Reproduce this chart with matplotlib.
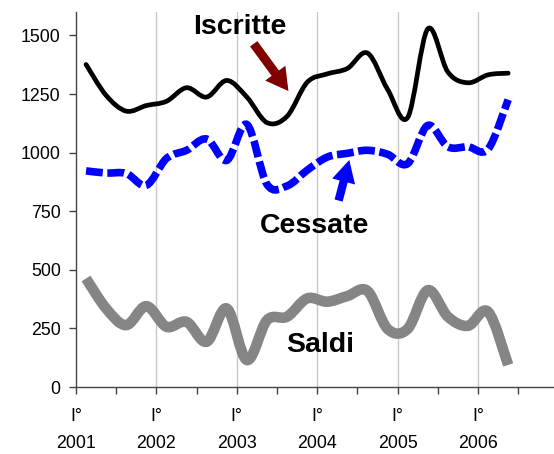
import numpy as np
import matplotlib
matplotlib.use("Agg")
import matplotlib.pyplot as plt
from matplotlib.path import Path
from matplotlib.patches import PathPatch, FancyArrowPatch

plt.rcParams['font.family'] = ['Liberation Sans', 'DejaVu Sans']

# quarterly data, I 2001 .. II 2006
years = [2001, 2002, 2003, 2004, 2005, 2006]
iscritte = [1376, 1244, 1177, 1201, 1219, 1277, 1237, 1308, 1237, 1128, 1155, 1300,
            1336, 1359, 1425, 1270, 1150, 1528, 1344, 1298, 1332, 1339]
cessate = [922, 913, 911, 861, 975, 1010, 1058, 967, 1120, 865, 858, 925,
           981, 997, 1010, 993, 953, 1116, 1025, 1025, 1015, 1226]
saldi = [463, 335, 264, 345, 257, 278, 193, 335, 115, 285, 300, 378,
         364, 388, 410, 248, 248, 413, 300, 261, 321, 94]


def smooth_path(xs, ys):
    # excel-like smoothed line (catmull-rom as bezier)
    p = np.column_stack([xs, ys]).astype(float)
    n = len(p)
    verts = [p[0]]
    codes = [Path.MOVETO]
    for i in range(n - 1):
        p0 = p[i - 1] if i > 0 else p[i]
        p3 = p[i + 2] if i + 2 < n else p[i + 1]
        c1 = p[i] + (p[i + 1] - p0) / 6
        c2 = p[i + 1] - (p3 - p[i]) / 6
        verts += [c1, c2, p[i + 1]]
        codes += [Path.CURVE4] * 3
    return Path(verts, codes)


fig = plt.figure(figsize=(5.54, 4.54), dpi=100)
ax = fig.add_axes([76 / 554, 67 / 454, 478 / 554, 375 / 454])

x = np.arange(len(iscritte)) + 0.5

ax.add_patch(PathPatch(smooth_path(x, saldi), fill=False, edgecolor='#858585',
                       lw=7.6, capstyle='butt', joinstyle='round'))
ax.add_patch(PathPatch(smooth_path(x, cessate), fill=False, edgecolor='#0000ff',
                       lw=5.5, linestyle=(0, (2.2, 0.6)), capstyle='butt'))
ax.add_patch(PathPatch(smooth_path(x, iscritte), fill=False, edgecolor='black',
                       lw=3.4, capstyle='round', joinstyle='round'))

ax.set_xlim(0, 23.78)
ax.set_ylim(0, 1600)

ax.set_yticks(np.arange(0, 1501, 250))
ax.set_xticks(np.arange(0, 24, 2))
labels = []
for i in range(12):
    labels.append('I°\n%d' % years[i // 2] if i % 2 == 0 else '')
ax.set_xticklabels(labels)
plt.setp(ax.get_xticklabels(), linespacing=1.75)

ax.tick_params(axis='both', labelsize=12.8, length=5, width=1, color='#444444', direction='out')
ax.tick_params(axis='y', pad=6)
ax.tick_params(axis='x', pad=10)

for g in range(4, 24, 4):
    ax.axvline(g, color='#c8c8c8', lw=1, zorder=0)

for s in ['top', 'right']:
    ax.spines[s].set_visible(False)
for s in ['left', 'bottom']:
    ax.spines[s].set_color('#444444')
    ax.spines[s].set_linewidth(1)

# annotations
ax.text(8.16, 1504, 'Iscritte', fontsize=20.5, fontweight='bold', ha='center', va='baseline')
ax.text(11.89, 656, 'Cessate', fontsize=20.5, fontweight='bold', ha='center', va='baseline')
ax.text(12.14, 149, 'Saldi', fontsize=20.5, fontweight='bold', ha='center', va='baseline')

ax.add_patch(FancyArrowPatch((8.76, 1474), (10.65, 1253), mutation_scale=1,
                             arrowstyle='simple,head_width=18,head_length=16,tail_width=6.5',
                             color='#800000', lw=0))
ax.add_patch(FancyArrowPatch((13.03, 784), (13.63, 980), mutation_scale=1,
                             arrowstyle='simple,head_width=17,head_length=16,tail_width=6',
                             color='#0000ff', lw=0))

fig.savefig('out.png', dpi=100)
